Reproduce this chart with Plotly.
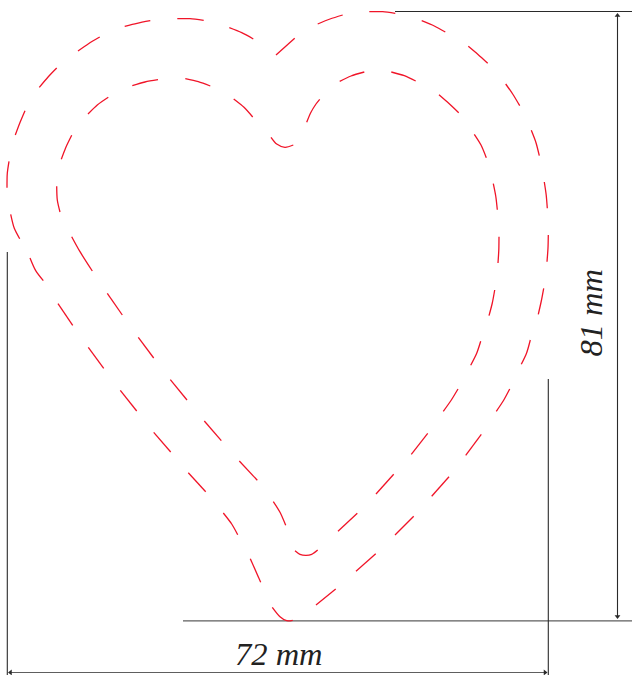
import plotly.graph_objects as go

# Stitching dashes (image pixels: x right, y down)
outer_dashes = [
    [(276, 55), (294.7, 38.3)],
    [(317.7, 24), (330, 19), (342.7, 15)],
    [(369.3, 11.7), (382.7, 11.7), (395.3, 13.3)],
    [(421.7, 20.7), (434.3, 26), (445.3, 32)],
    [(468.3, 46.3), (478, 54.5), (487.7, 63.3)],
    [(505.7, 84), (513, 94.5), (519.7, 105.7)],
    [(531.3, 130.3), (536, 142.7), (539.3, 155.7)],
    [(544.3, 182), (546.2, 195), (547.3, 208.3)],
    [(548.3, 235), (548, 248), (547, 261.7)],
    [(543.7, 288.3), (541.3, 301), (538.3, 314.3)],
    [(530.3, 340), (526.7, 352.7), (521.3, 364.3)],
    [(509.7, 389), (503.5, 400.5), (496.3, 411.3)],
    [(481.3, 434.3), (465.7, 455.3)],
    [(449, 476.7), (431.7, 496.3)],
    [(413.7, 516.3), (395, 535)],
    [(375.7, 553.7), (356, 571.3)],
    [(335.7, 589), (316, 605)],
    [(292.7, 620.3), (286.7, 620.7), (280, 616.7), (272.3, 607.3)],
    [(260.7, 582.3), (250.3, 558.7)],
    [(237.7, 534.7), (231.7, 524), (223.3, 513)],
    [(205.7, 491.7), (188.3, 472.7)],
    [(170.7, 452), (153.7, 432.3)],
    [(136.7, 411), (120.3, 390.3)],
    [(103.7, 368.3), (88.3, 347.3)],
    [(72.7, 325.3), (58, 303.7)],
    [(43.3, 280.7), (35.7, 270.7), (30, 258)],
    [(19.7, 238.7), (14.3, 228.3), (10.7, 214.3)],
    [(7, 187.7), (7.3, 173.3), (9, 161.3)],
    [(15.3, 135), (20, 122.5), (25, 110.7)],
    [(39.3, 87.3), (48.3, 76.7), (56.7, 68)],
    [(78, 51), (88.5, 43.7), (99.7, 37)],
    [(124.7, 26.3), (137, 23.3), (150.3, 20.7)],
    [(177.3, 18.7), (190, 18.7), (203.7, 20.3)],
    [(229.3, 27.7), (241.7, 32.7), (253.3, 39)],
]

inner_dashes = [
    [(306.7, 122.3), (310.7, 112.7), (316, 104), (319.7, 99.3)],
    [(339.7, 81.3), (351, 76), (364.3, 72)],
    [(391.3, 72), (404.3, 75.7), (415.7, 81)],
    [(439, 94.7), (449, 103.5), (458.7, 112.7)],
    [(474.3, 134.3), (481, 145), (486.3, 157.7)],
    [(493.3, 183.7), (495.8, 196.5), (497.3, 209.7)],
    [(499, 236.7), (498.8, 250), (498, 263)],
    [(494.7, 290), (492.3, 303), (489, 315.7)],
    [(480.7, 341.3), (476.7, 353.3), (470.7, 365.3)],
    [(458, 389), (451, 400.5), (443.3, 411.3)],
    [(427.7, 433.3), (411.3, 454.3)],
    [(393.7, 474.3), (376, 494)],
    [(357.3, 513.3), (338, 531.3)],
    [(317.7, 550), (311.7, 554.3), (306, 555.3), (300, 554.3), (295, 550.7)],
    [(285.7, 525.3), (280, 512.3), (273.3, 501.7)],
    [(257.3, 480.3), (239.3, 461)],
    [(221.3, 440.7), (204.3, 421)],
    [(187, 400), (170.3, 379.7)],
    [(153.7, 358), (138.3, 337.3)],
    [(122.3, 315), (107.3, 293.3)],
    [(92.3, 271), (80, 251.7), (71.7, 236.7)],
    [(60, 212), (57.3, 200), (56.7, 186.3)],
    [(61.3, 159.3), (65.7, 147.7), (71.7, 135.3)],
    [(88, 114), (97.3, 105), (108.3, 97.3)],
    [(132.3, 85.7), (145, 82), (158, 79.7)],
    [(185.3, 78.7), (198.3, 81.7), (210.3, 86)],
    [(233.7, 99), (244, 107.3), (252.7, 117)],
    [(271, 137.3), (276.7, 144), (285, 147.3), (293.3, 145)],
]

# Dimension lines
dark_x = [7.3, 7.3, None, 548.3, 548.3, None, 395, 632, None, 617.5, 617.5]
dark_y = [252, 675, None, 379, 675, None, 11.5, 11.5, None, 14, 618]
grey_x = [183, 632, None, 9, 546]
grey_y = [620.8, 620.8, None, 672.5, 672.5]

arrow_x = [617.5, 617.5, 10.5, 545]
arrow_y = [15.5, 616.5, 672.5, 672.5]
arrow_symbols = ["triangle-up", "triangle-down", "triangle-left", "triangle-right"]

width_label = "72 mm"
height_label = "81 mm"
width_label_pos = (278.5, 654)
height_label_pos = (590.5, 313)


def flatten(dashes):
    xs, ys = [], []
    for dash in dashes:
        xs += [p[0] for p in dash] + [None]
        ys += [p[1] for p in dash] + [None]
    return xs, ys


fig = go.Figure()
fig.add_trace(go.Scatter(x=grey_x, y=grey_y, mode="lines",
                         line=dict(color="#5e5e5e", width=1.2)))
fig.add_trace(go.Scatter(x=dark_x, y=dark_y, mode="lines",
                         line=dict(color="#2a2a2a", width=1.1)))
fig.add_trace(go.Scatter(x=arrow_x, y=arrow_y, mode="markers",
                         marker=dict(symbol=arrow_symbols, size=5, color="#2a2a2a",
                                     line=dict(width=0))))
for dashes in (outer_dashes, inner_dashes):
    xs, ys = flatten(dashes)
    fig.add_trace(go.Scatter(x=xs, y=ys, mode="lines", connectgaps=False,
                             line=dict(color="#f01428", width=1.3, shape="spline", smoothing=0.8)))

label_font = dict(family="Liberation Serif", size=32.5, color="#222222", style="italic")
fig.add_annotation(x=width_label_pos[0], y=width_label_pos[1], text=width_label, showarrow=False,
                   font=label_font, xanchor="center", yanchor="middle")
fig.add_annotation(x=height_label_pos[0], y=height_label_pos[1], text=height_label, showarrow=False,
                   font=label_font, textangle=-90, xanchor="center", yanchor="middle")

fig.update_layout(
    width=632, height=675, margin=dict(l=0, r=0, t=0, b=0),
    paper_bgcolor="white", plot_bgcolor="white", showlegend=False, hovermode=False,
    xaxis=dict(range=[0, 632], visible=False, fixedrange=True),
    yaxis=dict(range=[675, 0], visible=False, fixedrange=True),
)
fig.write_html("out.html", config={"displayModeBar": False},
               post_script="document.body.style.margin='0';document.body.style.overflow='hidden';")
